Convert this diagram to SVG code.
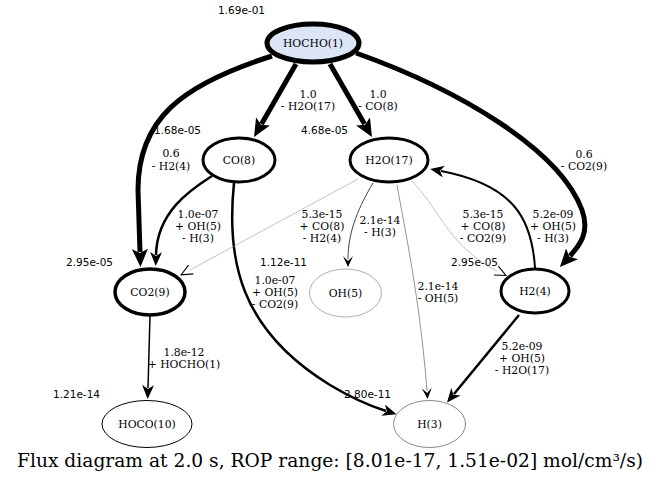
<svg xmlns="http://www.w3.org/2000/svg" width="661" height="485" viewBox="0 0 661 485">
<style>
.nl{font-family:"DejaVu Serif",serif;font-size:10.8px;text-anchor:middle;fill:#000}
.vl{font-family:"DejaVu Sans",sans-serif;font-size:10.5px;fill:#000}
.el{font-family:"DejaVu Serif",serif;font-size:10.8px;text-anchor:middle;fill:#000}
.e{fill:none;stroke:#000}
</style>
<defs>
<marker id="ab" markerUnits="userSpaceOnUse" viewBox="0 0 20 16" markerWidth="20" markerHeight="16" refX="3" refY="8" orient="auto"><path d="M0,0 L18,8 L0,16 L4,8 z" fill="#000"/></marker>
<marker id="am" markerUnits="userSpaceOnUse" viewBox="0 0 16 12" markerWidth="16" markerHeight="12" refX="3" refY="6" orient="auto"><path d="M0,0 L14,6 L0,12 L4,6 z" fill="#000"/></marker>
<marker id="as" markerUnits="userSpaceOnUse" viewBox="0 0 12 10" markerWidth="12" markerHeight="10" refX="3" refY="5" orient="auto"><path d="M0,0 L11,5 L0,10 L5,5 z" fill="#000"/></marker>
<marker id="ag" markerUnits="userSpaceOnUse" viewBox="-1 -1 13 12" markerWidth="13" markerHeight="12" refX="1" refY="5" orient="auto"><path d="M0,0 L11,5 L0,10" fill="none" stroke="#000" stroke-width="1.1"/></marker>
</defs>
<rect width="661" height="485" fill="#fff"/>
<g id="edges">
<path class="e" stroke-width="5" d="M272,56 C180,85 138,120 138,190 L140,252" marker-end="url(#ab)"/>
<path class="e" stroke-width="5" d="M296,64 L261.5,124" marker-end="url(#ab)"/>
<path class="e" stroke-width="5" d="M330,64 L364.5,124" marker-end="url(#ab)"/>
<path class="e" stroke-width="5" d="M356,53 C460,90 560,150 582,210 C590,232 580,245 570,256" marker-end="url(#ab)"/>
<path class="e" stroke-width="2.5" d="M212,176 C190,190 157,212 156,255" marker-end="url(#am)"/>
<path class="e" stroke-width="2.5" d="M234,183 C226,260 240,330 330,385 C355,400 370,406 386,411" marker-end="url(#am)"/>
<path class="e" stroke-width="0.6" style="stroke:#999" d="M358,179 L190,270" marker-end="url(#ag)"/>
<path class="e" stroke-width="1" style="stroke:#444" d="M373,183 C360,205 348,230 348,259" marker-end="url(#as)"/>
<path class="e" stroke-width="0.8" style="stroke:#777" d="M397,185 C405,230 420,300 427,391" marker-end="url(#as)"/>
<path class="e" stroke-width="0.6" style="stroke:#999" d="M412,181 C430,200 440,220 455,238 C470,255 485,265 497,271" marker-end="url(#ag)"/>
<path class="e" stroke-width="2" d="M535,268 C532,220 515,185 441,171" marker-end="url(#am)"/>
<path class="e" stroke-width="1.5" d="M150,316 L148,388" marker-end="url(#am)"/>
<path class="e" stroke-width="2.5" d="M519,315 L454,394" marker-end="url(#am)"/>
</g>
<g id="edge-labels">
<text class="el" x="308" y="98">1.0</text><text class="el" x="308" y="110">- H2O(17)</text>
<text class="el" x="378" y="98">1.0</text><text class="el" x="378" y="110">- CO(8)</text>
<text class="el" x="171" y="157">0.6</text><text class="el" x="171" y="170">- H2(4)</text>
<text class="el" x="584" y="158">0.6</text><text class="el" x="584" y="170">- CO2(9)</text>
<text class="el" x="198" y="218">1.0e-07</text><text class="el" x="198" y="230">+ OH(5)</text><text class="el" x="198" y="242">- H(3)</text>
<text class="el" x="322" y="218">5.3e-15</text><text class="el" x="322" y="230">+ CO(8)</text><text class="el" x="322" y="242">- H2(4)</text>
<text class="el" x="380" y="224">2.1e-14</text><text class="el" x="380" y="236">- H(3)</text>
<text class="el" x="483" y="218">5.3e-15</text><text class="el" x="483" y="230">+ CO(8)</text><text class="el" x="483" y="242">- CO2(9)</text>
<text class="el" x="553" y="218">5.2e-09</text><text class="el" x="553" y="230">+ OH(5)</text><text class="el" x="553" y="242">- H(3)</text>
<text class="el" x="275" y="284">1.0e-07</text><text class="el" x="275" y="296">+ OH(5)</text><text class="el" x="275" y="308">- CO2(9)</text>
<text class="el" x="438" y="290">2.1e-14</text><text class="el" x="438" y="302">- OH(5)</text>
<text class="el" x="184" y="356">1.8e-12</text><text class="el" x="184" y="368">+ HOCHO(1)</text>
<text class="el" x="522" y="350">5.2e-09</text><text class="el" x="522" y="362">+ OH(5)</text><text class="el" x="522" y="374">- H2O(17)</text>
</g>
<g id="value-labels">
<text class="vl" x="218" y="14">1.69e-01</text>
<text class="vl" x="154" y="134">1.68e-05</text>
<text class="vl" x="301" y="134">4.68e-05</text>
<text class="vl" x="66" y="266">2.95e-05</text>
<text class="vl" x="260" y="266">1.12e-11</text>
<text class="vl" x="451" y="266">2.95e-05</text>
<text class="vl" x="53" y="398">1.21e-14</text>
<text class="vl" x="344" y="398">2.80e-11</text>
</g>
<g id="n-HOCHO1"><ellipse cx="313" cy="43" rx="46" ry="19" fill="#dce5f5" stroke="#000" stroke-width="5"/><text class="nl" x="313" y="47">HOCHO(1)</text></g>
<g id="n-CO8"><ellipse cx="239" cy="160" rx="36" ry="22" fill="#fff" stroke="#000" stroke-width="3"/><text class="nl" x="239" y="164">CO(8)</text></g>
<g id="n-H2O17"><ellipse cx="389" cy="160" rx="39" ry="22" fill="#fff" stroke="#000" stroke-width="3"/><text class="nl" x="389" y="164">H2O(17)</text></g>
<g id="n-CO29"><ellipse cx="150" cy="292" rx="35" ry="23" fill="#fff" stroke="#000" stroke-width="3.5"/><text class="nl" x="150" y="296">CO2(9)</text></g>
<g id="n-OH5"><ellipse cx="345.5" cy="293" rx="36" ry="24" fill="#fff" stroke="#999" stroke-width="0.8"/><text class="nl" x="345.5" y="297">OH(5)</text></g>
<g id="n-H24"><ellipse cx="535" cy="291" rx="34" ry="22" fill="#fff" stroke="#000" stroke-width="3"/><text class="nl" x="535" y="295">H2(4)</text></g>
<g id="n-HOCO10"><ellipse cx="147" cy="424" rx="45" ry="23.5" fill="#fff" stroke="#000" stroke-width="1"/><text class="nl" x="147" y="428">HOCO(10)</text></g>
<g id="n-H3"><ellipse cx="429.5" cy="424" rx="36" ry="23.5" fill="#fff" stroke="#888" stroke-width="1"/><text class="nl" x="429.5" y="428">H(3)</text></g>
<text x="17" y="467" font-family="DejaVu Serif, serif" font-size="18" textLength="626" lengthAdjust="spacingAndGlyphs">Flux diagram at 2.0 s, ROP range: [8.01e-17, 1.51e-02] mol/cm³/s)</text>
</svg>
